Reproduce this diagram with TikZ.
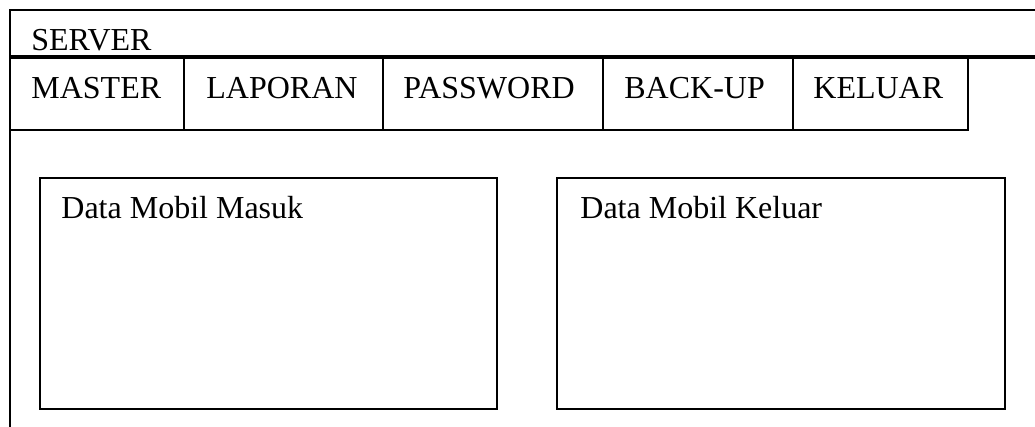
\documentclass[tikz,border=0pt]{standalone}
\usepackage{fontspec}
\setmainfont{Liberation Serif}
\usetikzlibrary{positioning}

\begin{document}
\begin{tikzpicture}[x=0.5pt, y=-0.5pt,
    menutext/.style={anchor=base west, inner sep=0pt, font=\fontsize{16}{19}\selectfont},
    thinline/.style={line width=0.8pt},
    frameline/.style={line width=1pt}]
\useasboundingbox (0,0) rectangle (1035,427);
% window frame
\draw[frameline] (1035,10) -- (10,10) -- (10,427);
\draw[line width=2pt] (10,57) -- (1035,57);
\node[menutext] (server) at (31,51) {SERVER};
% menu bar
\draw[thinline] (10,130) -- (968,130) -- (968,57);
\foreach \x in {184, 383, 603, 793}
    \draw[thinline] (\x,57) -- (\x,130);
\foreach \x/\t/\n in {31/MASTER/master, 206/LAPORAN/laporan, 403/PASSWORD/password,
                      624/BACK-UP/backup, 813/KELUAR/keluar}
    \node[menutext] (\n) at (\x,99) {\t};
% data panels
\draw[frameline] (40,178) rectangle (497,409);
\draw[frameline] (557,178) rectangle (1005,409);
\node[menutext] (masuk) at (61,219) {Data Mobil Masuk};
\node[menutext] (keluarmobil) at (580,219) {Data Mobil Keluar};
\end{tikzpicture}
\end{document}
